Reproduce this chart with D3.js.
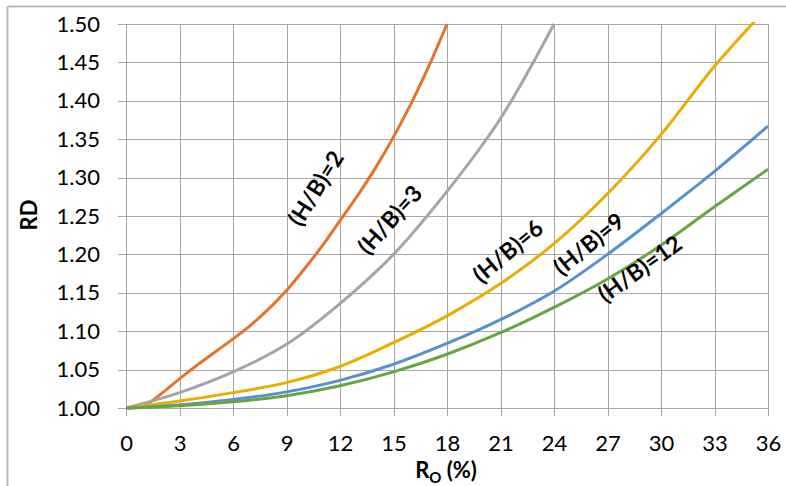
<!DOCTYPE html>
<html>
<head>
<meta charset="utf-8">
<script src="https://cdn.jsdelivr.net/npm/d3@7"></script>
<style>
  body { margin: 0; background: #fff; }
  svg { display: block; font-family: Lato, "Open Sans", sans-serif; }
</style>
</head>
<body>
<svg id="chart"></svg>
<script>
var WIDTH = 786;
var HEIGHT = 486;

// values
var xTicks = [0, 3, 6, 9, 12, 15, 18, 21, 24, 27, 30, 33, 36];
var yTicks = [1.00, 1.05, 1.10, 1.15, 1.20, 1.25, 1.30, 1.35, 1.40, 1.45, 1.50];

var xHB2 = [0, 1, 2, 3, 4, 5, 6, 7, 8, 9, 10, 11, 12, 13, 14, 15, 16, 17, 18];
var yHB2 = [1.000, 1.003, 1.019, 1.038, 1.056, 1.073, 1.090, 1.108, 1.129, 1.153,
            1.181, 1.211, 1.244, 1.277, 1.313, 1.353, 1.397, 1.446, 1.500];

var xHB3 = [0, 3, 6, 9, 12, 15, 18, 21, 24];
var yHB3 = [1.000, 1.020, 1.047, 1.083, 1.136, 1.200, 1.282, 1.377, 1.500];

var xHB6 = [0, 3, 6, 9, 12, 15, 18, 21, 24, 27, 30, 33, 36];
var yHB6 = [1.000, 1.009, 1.020, 1.033, 1.054, 1.085, 1.120, 1.162, 1.214, 1.279, 1.356, 1.445, 1.522];

var xHB9 = [0, 3, 6, 9, 12, 15, 18, 21, 24, 27, 30, 33, 36];
var yHB9 = [1.000, 1.004, 1.011, 1.021, 1.036, 1.057, 1.084, 1.115, 1.152, 1.200, 1.253, 1.308, 1.367];

var xHB12 = [0, 3, 6, 9, 12, 15, 18, 21, 24, 27, 30, 33, 36];
var yHB12 = [1.000, 1.003, 1.008, 1.016, 1.029, 1.047, 1.070, 1.098, 1.131, 1.168, 1.212, 1.262, 1.311];

var seriesNames = ['(H/B)=2', '(H/B)=3', '(H/B)=6', '(H/B)=9', '(H/B)=12'];
var seriesX = [xHB2, xHB3, xHB6, xHB9, xHB12];
var seriesY = [yHB2, yHB3, yHB6, yHB9, yHB12];
var colors = ['#e5732b', '#a5a5a5', '#e8ad00', '#5592cd', '#67a543'];

// label placement: x value, y value, angle
var labelX = [10.65, 14.8, 21.42, 25.96, 28.82];
var labelY = [1.286, 1.245, 1.204, 1.2135, 1.181];
var labelAngle = [-58, -48, -40, -39, -35.5];

var margin = {left: 126, top: 24, right: 18, bottom: 78};
var w = WIDTH - margin.left - margin.right;
var h = HEIGHT - margin.top - margin.bottom;

var svg = d3.select('#chart')
  .attr('width', WIDTH)
  .attr('height', HEIGHT);

// outer chart border (top and left visible)
svg.append('line').attr('x1', 7.5).attr('x2', WIDTH).attr('y1', 6.5).attr('y2', 6.5)
  .attr('stroke', '#a6a6a6').attr('stroke-width', 1.5);
svg.append('line').attr('x1', 7.5).attr('x2', 7.5).attr('y1', 6.5).attr('y2', HEIGHT)
  .attr('stroke', '#b5b5b5').attr('stroke-width', 2);

var xScale = d3.scaleLinear().domain([0, 36]).range([0, w]);
var yScale = d3.scaleLinear().domain([1.0, 1.5]).range([h, 0]);

var g = svg.append('g').attr('transform', 'translate(' + margin.left + ',' + margin.top + ')');

// gridlines
g.append('g').selectAll('line').data(xTicks).enter().append('line')
  .attr('x1', function(d){ return Math.round(xScale(d)) + 0.5; })
  .attr('x2', function(d){ return Math.round(xScale(d)) + 0.5; })
  .attr('y1', 0).attr('y2', h + 8)
  .attr('stroke', '#a6a6a6').attr('stroke-width', 1);
g.append('g').selectAll('line').data(yTicks).enter().append('line')
  .attr('x1', -8).attr('x2', w)
  .attr('y1', function(d){ return Math.round(yScale(d)) + 0.5; })
  .attr('y2', function(d){ return Math.round(yScale(d)) + 0.5; })
  .attr('stroke', '#a6a6a6').attr('stroke-width', 1);

// axes (labels only, lines come from the grid)
var leftAxis = d3.axisLeft(yScale).tickValues(yTicks).tickFormat(d3.format('.2f')).tickSize(0).tickPadding(26);
var yAxisG = g.append('g').call(leftAxis);
var bottomAxis = d3.axisBottom(xScale).tickValues(xTicks).tickFormat(d3.format('d')).tickSize(0);
var xAxisG = g.append('g').attr('transform', 'translate(0,' + h + ')').call(bottomAxis);
[yAxisG, xAxisG].forEach(function(a){
  a.select('.domain').remove();
  a.selectAll('text').attr('fill', '#000').style('font-size', '22px').style('font-family', 'Lato, sans-serif');
});
xAxisG.selectAll('text').attr('y', 42.5).attr('dy', 0);

// clip
svg.append('defs').append('clipPath').attr('id', 'clip')
  .append('rect').attr('x', 0).attr('y', -2).attr('width', w + 2).attr('height', h + 4);

var line = d3.line()
  .x(function(d){ return xScale(d[0]); })
  .y(function(d){ return yScale(d[1]); })
  .curve(d3.curveCatmullRom.alpha(0.5));

var lines = g.append('g').attr('clip-path', 'url(#clip)');
seriesNames.forEach(function(name, i){
  var pts = d3.zip(seriesX[i], seriesY[i]);
  lines.append('path')
    .datum(pts)
    .attr('d', line)
    .attr('fill', 'none')
    .attr('stroke', colors[i])
    .attr('stroke-width', 3)
    .attr('stroke-linejoin', 'round');
});

// curve labels
seriesNames.forEach(function(name, i){
  var lx = xScale(labelX[i]), ly = yScale(labelY[i]);
  g.append('text')
    .attr('transform', 'translate(' + lx + ',' + ly + ') rotate(' + labelAngle[i] + ')')
    .attr('text-anchor', 'middle')
    .attr('dy', '0.35em')
    .style('font-size', '23px')
    .style('font-weight', 'bold')
    .text(name);
});

// axis titles
svg.append('text')
  .attr('transform', 'translate(29,215) rotate(-90)')
  .attr('text-anchor', 'middle')
  .attr('dy', '0.35em')
  .style('font-size', '22px')
  .style('font-weight', 'bold')
  .text('RD');

var xt = svg.append('text')
  .attr('x', 446).attr('y', 478)
  .attr('text-anchor', 'middle')
  .style('font-size', '22px')
  .style('font-weight', 'bold');
xt.append('tspan').text('R');
xt.append('tspan').attr('dy', 5).style('font-size', '15px').text('O');
xt.append('tspan').attr('dy', -5).text(' (%)');
</script>
</body>
</html>
